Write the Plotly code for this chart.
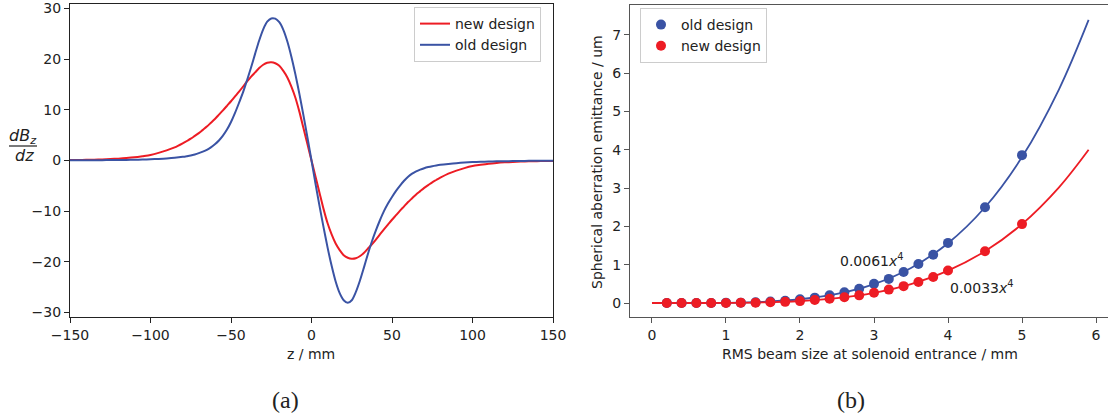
import plotly.graph_objects as go

# ---------------- data: panel (a) ----------------
z_grid = [-150, -145, -140, -135, -130, -125, -120, -115, -110, -105, -100, -95, -90, -85,
          -80, -77.5, -75, -72.5, -70, -67.5, -65, -62.5,
          -60, -57.5, -55, -52.5, -50, -47.5, -45, -42.5, -40, -37.5, -35, -32.5, -30, -27.5, -25, -22.5,
          -20, -17.5, -15, -12.5, -10, -7.5, -5, -2.5,
          0,
          2.5, 5, 7.5, 10, 12.5, 15, 17.5, 20, 22.5, 25, 27.5, 30, 32.5, 35, 37.5, 40, 42.5, 45, 47.5,
          50, 52.5, 55, 57.5, 60,
          62.5, 65, 67.5, 70, 72.5, 75, 77.5, 80,
          85, 90, 95, 100, 105, 110, 115, 120, 125, 130, 135, 140, 145, 150]
g_new = [0.08, 0.10, 0.13, 0.17, 0.22, 0.28, 0.37, 0.48, 0.63, 0.85, 1.1, 1.5, 2.0, 2.6,
         3.4, 3.85, 4.3, 4.85, 5.4, 6.05, 6.7, 7.45,
         8.2, 9.05, 9.9, 10.8, 11.7, 12.65, 13.6, 14.6, 15.6, 16.55, 17.4, 18.25, 18.9, 19.3, 19.4, 19.2,
         18.7, 17.7, 16.4, 14.6, 12.4, 9.6, 6.4, 3.2,
         0.0,
         -3.2, -6.4, -9.6, -12.4, -14.6, -16.4, -17.7, -18.7, -19.2, -19.4, -19.3, -18.9, -18.25, -17.4, -16.55,
         -15.6, -14.6, -13.6, -12.65, -11.7, -10.8, -9.9, -9.05, -8.2,
         -7.45, -6.7, -6.05, -5.4, -4.85, -4.3, -3.85, -3.4,
         -2.6, -2.0, -1.5, -1.1, -0.85, -0.63, -0.48, -0.37, -0.28, -0.22, -0.17, -0.13, -0.10, -0.08]
g_old = [0.04, 0.04, 0.05, 0.06, 0.07, 0.08, 0.10, 0.12, 0.15, 0.19, 0.24, 0.31, 0.40, 0.53,
         0.72, 0.85, 1.0, 1.2, 1.45, 1.75, 2.1, 2.6,
         3.2, 3.95, 4.9, 6.1, 7.6, 9.4, 11.4, 13.5, 15.9, 18.4, 21.1, 23.7, 25.9, 27.4, 28.05, 28.0,
         27.3, 25.8, 23.5, 20.5, 17.0, 13.1, 8.9, 4.5,
         0.0,
         -4.6, -9.0, -13.2, -17.2, -20.8, -23.9, -26.2, -27.6, -28.1, -27.6, -26.0, -23.8, -21.2, -18.5, -16.0,
         -13.8, -11.8, -10.0, -8.5, -7.2, -6.0, -4.95, -4.0, -3.2,
         -2.6, -2.15, -1.8, -1.52, -1.3, -1.12, -0.98, -0.86,
         -0.68, -0.52, -0.4, -0.32, -0.26, -0.21, -0.17, -0.14, -0.11, -0.09, -0.07, -0.06, -0.05, -0.04]

# ---------------- data: panel (b) ----------------
size_pts = [0.2, 0.4, 0.6, 0.8, 1.0, 1.2, 1.4, 1.6, 1.8, 2.0, 2.2, 2.4, 2.6, 2.8, 3.0, 3.2, 3.4, 3.6, 3.8, 4.0, 4.5, 5.0]
emit_old = [0.0, 0.0, 0.0, 0.0, 0.01, 0.01, 0.02, 0.04, 0.06, 0.10, 0.14, 0.20, 0.28, 0.37, 0.50, 0.63, 0.81, 1.02, 1.26, 1.57, 2.50, 3.86]
emit_new = [0.0, 0.0, 0.0, 0.0, 0.0, 0.01, 0.01, 0.02, 0.03, 0.05, 0.08, 0.11, 0.15, 0.20, 0.27, 0.35, 0.44, 0.55, 0.68, 0.85, 1.35, 2.06]

fit_x = [0, 0.5, 1.0, 1.5, 2.0, 2.5, 3.0, 3.5, 4.0, 4.5, 5.0, 5.5, 5.9]
fit_old = [0, 0.0004, 0.006, 0.031, 0.098, 0.238, 0.494, 0.915, 1.562, 2.50, 3.81, 5.58, 7.39]
fit_new = [0, 0.0002, 0.0033, 0.0167, 0.053, 0.129, 0.267, 0.495, 0.845, 1.353, 2.06, 3.02, 4.00]

RED = "#ed1c24"
BLUE = "#3a53a4"
W, H = 1108, 419

def px(x):
    return x / W

def py(y):
    return 1 - y / H

fig = go.Figure()

# panel (a)
fig.add_trace(go.Scatter(x=z_grid, y=g_new, mode="lines", name="new design",
                         line=dict(color=RED, width=2, shape="spline", smoothing=0.8),
                         xaxis="x", yaxis="y", legend="legend"))
fig.add_trace(go.Scatter(x=z_grid, y=g_old, mode="lines", name="old design",
                         line=dict(color=BLUE, width=2, shape="spline", smoothing=0.8),
                         xaxis="x", yaxis="y", legend="legend"))

# panel (b)
fig.add_trace(go.Scatter(x=fit_x, y=fit_old, mode="lines", showlegend=False,
                         line=dict(color=BLUE, width=1.8, shape="spline"),
                         xaxis="x2", yaxis="y2"))
fig.add_trace(go.Scatter(x=fit_x, y=fit_new, mode="lines", showlegend=False,
                         line=dict(color=RED, width=1.8, shape="spline"),
                         xaxis="x2", yaxis="y2"))
fig.add_trace(go.Scatter(x=size_pts, y=emit_old, mode="markers", name="old design",
                         marker=dict(color=BLUE, size=10),
                         xaxis="x2", yaxis="y2", legend="legend2"))
fig.add_trace(go.Scatter(x=size_pts, y=emit_new, mode="markers", name="new design",
                         marker=dict(color=RED, size=10),
                         xaxis="x2", yaxis="y2", legend="legend2"))

tickfont = dict(family="DejaVu Sans", size=14, color="#222")

def axis_common(linecolor):
    return dict(showline=True, mirror=True, linecolor=linecolor, linewidth=1.2,
                ticks="outside", ticklen=5, tickwidth=1.2, tickcolor=linecolor,
                showgrid=False, zeroline=False, tickfont=tickfont, automargin=False)

fig.update_layout(
    width=W, height=H,
    margin=dict(l=0, r=0, t=0, b=0, pad=0, autoexpand=False),
    paper_bgcolor="white", plot_bgcolor="white",
    font=dict(family="DejaVu Sans", size=14, color="#222"),
    xaxis=dict(domain=[px(70), px(553)], range=[-150, 150],
               tickvals=[-150, -100, -50, 0, 50, 100, 150], anchor="y",
               **axis_common("#222")),
    yaxis=dict(domain=[py(317), py(4)], range=[-30.9, 30.9],
               tickvals=[-30, -20, -10, 0, 10, 20, 30], anchor="x",
               **axis_common("#222")),
    xaxis2=dict(domain=[px(630), 1.0], range=[-0.297, 6.162],
                tickvals=[0, 1, 2, 3, 4, 5, 6], anchor="y2",
                **axis_common("#555")),
    yaxis2=dict(domain=[py(317), py(5)], range=[-0.365, 7.78],
                tickvals=[0, 1, 2, 3, 4, 5, 6, 7], anchor="x2",
                **axis_common("#555")),
    legend=dict(x=px(414), y=py(7), xanchor="left", yanchor="top",
                bgcolor="rgba(255,255,255,0.85)", bordercolor="#cccccc", borderwidth=1,
                font=dict(family="DejaVu Sans", size=14, color="#222"),
                itemwidth=30, tracegroupgap=0),
    legend2=dict(x=px(640), y=py(8), xanchor="left", yanchor="top",
                 bgcolor="rgba(255,255,255,0.85)", bordercolor="#cccccc", borderwidth=1,
                 font=dict(family="DejaVu Sans", size=14, color="#222"),
                 itemwidth=30, tracegroupgap=0),
    showlegend=True,
)

def note(text, x, y, size=14, family="DejaVu Sans", **kw):
    return dict(text=text, x=x, y=y, xref="paper", yref="paper", showarrow=False,
                xanchor="center", yanchor="middle",
                font=dict(family=family, size=size, color="#222"), **kw)

ann = []
# axis titles
ann.append(note("z / mm", px(311), py(354)))
ann.append(note("RMS beam size at solenoid entrance / mm", px(870), py(354)))
ann.append(note("Spherical aberration emittance / um", px(597), py(162), textangle=-90))
# fraction label dBz/dz
ann.append(note("<i>dB</i><sub><i>z</i></sub>", px(23), py(136), size=16))
ann.append(note("<i>dz</i>", px(24), py(155), size=16))
# fit annotations
ann.append(dict(text="0.0061<i>x</i><sup>4</sup>", x=2.51, y=1.13, xref="x2", yref="y2",
                xanchor="left", yanchor="middle", showarrow=False, font=dict(size=14, color="#222")))
ann.append(dict(text="0.0033<i>x</i><sup>4</sup>", x=4.0, y=0.43, xref="x2", yref="y2",
                xanchor="left", yanchor="middle", showarrow=False, font=dict(size=14, color="#222")))
# panel labels
ann.append(note("(a)", px(285), py(400), size=24, family="Liberation Serif"))
ann.append(note("(b)", px(851), py(400), size=24, family="Liberation Serif"))
fig.update_layout(annotations=ann)

fig.add_shape(type="line", xref="paper", yref="paper", x0=px(9), x1=px(37), y0=py(146), y1=py(146),
              line=dict(color="#222", width=1.2))

fig.write_html("out.html")
